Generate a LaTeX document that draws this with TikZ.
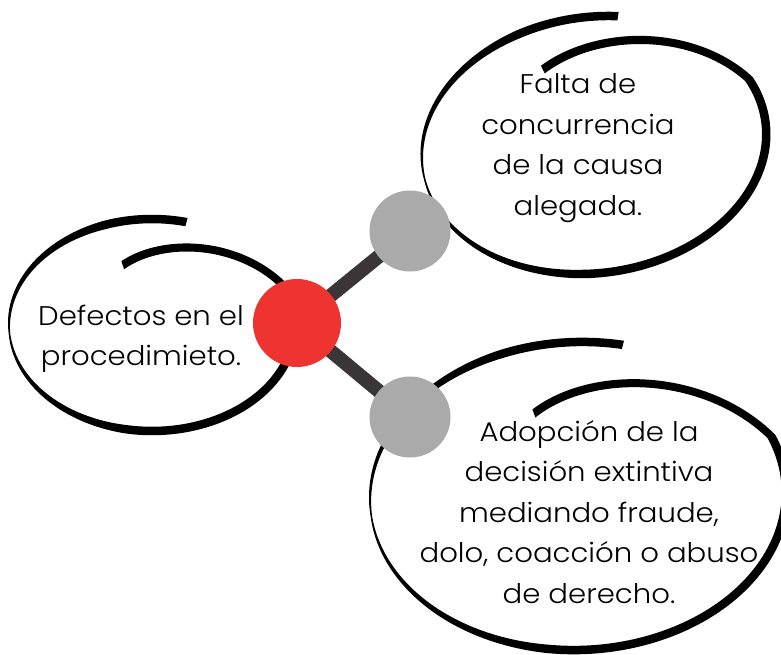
\documentclass[tikz,border=0pt]{standalone}
\usepackage{fontspec}
\setmainfont{Poppins}[UprightFont={* Light}, FakeStretch=1.08]
\pgfdeclarelayer{background}
\pgfsetlayers{background,main}
\definecolor{dotred}{HTML}{EE3431}
\definecolor{dotgray}{HTML}{AAAAAA}
\definecolor{linkgray}{HTML}{3A3536}
\tikzset{
  declare function={
    tt(\u)=76+394*\u;
    sc(\t,\k)=1-\k*max(0,\t-380)/90;
    wd(\t)=1.5+7*min(1,abs(\t-185)/75);
    ra(\u,\q,\mm,\k)=\mm*sc(tt(\u),\k)+\q*wd(tt(\u))/2;
    ex(\u,\q,\ma,\mb,\ph,\k)=ra(\u,\q,\ma,\k)*cos(tt(\u))*cos(\ph)-ra(\u,\q,\mb,\k)*sin(tt(\u))*sin(\ph);
    ey(\u,\q,\ma,\mb,\ph,\k)=ra(\u,\q,\ma,\k)*cos(tt(\u))*sin(\ph)+ra(\u,\q,\mb,\k)*sin(tt(\u))*cos(\ph);
  },
  dot/.style={circle, inner sep=0pt, draw=none},
  reddot/.style={dot, fill=dotred, minimum size=88pt},
  graydot/.style={dot, fill=dotgray, minimum size=81pt},
  link/.style={draw=linkgray, line width=14pt},
  label/.style={align=center, font=\fontsize{27pt}{40.5pt}\selectfont, text=black, inner sep=0pt},
}
% #1 cx, #2 cy, #3 half-width, #4 half-height, #5 tilt, #6 inward shrink of the last turn
\newcommand{\brushloop}[6]{%
  \fill[black] plot[domain=0:1, samples=280, variable=\u]
    ({#1+ex(\u,1,#3,#4,#5,#6)}, {#2-ey(\u,1,#3,#4,#5,#6)})
    -- plot[domain=0:1, samples=280, variable=\u]
    ({#1+ex(1-\u,-1,#3,#4,#5,#6)}, {#2-ey(1-\u,-1,#3,#4,#5,#6)}) -- cycle;%
}
\begin{document}
\begin{tikzpicture}[x=1pt, y=-1pt]
\useasboundingbox (0,0) rectangle (781,655);

\node[reddot] (red) at (297,323) {};
\node[graydot] (gtop) at (410,231) {};
\node[graydot] (gbot) at (410,417) {};

\begin{pgfonlayer}{background}
  \fill[white] (0,0) rectangle (781,655);
  \brushloop{152}{325}{143}{106}{0}{0.4}
  \brushloop{594}{145}{173}{128}{8}{0.32}
  \brushloop{578}{496}{208}{154}{2}{0.42}
  \draw[link] (red.center) -- (gtop.center);
  \draw[link] (red.center) -- (gbot.center);
\end{pgfonlayer}

\node[label] (tleft) at (141,339) {Defectos en el\\procedimieto.};
\node[label] (ttop) at (578,148) {Falta de\\concurrencia\\de la causa\\alegada.};
\node[label] (tbot) at (589,512) {Adopción de la\\decisión extintiva\\mediando fraude,\\dolo, coacción o abuso\\de derecho.};
\end{tikzpicture}
\end{document}
